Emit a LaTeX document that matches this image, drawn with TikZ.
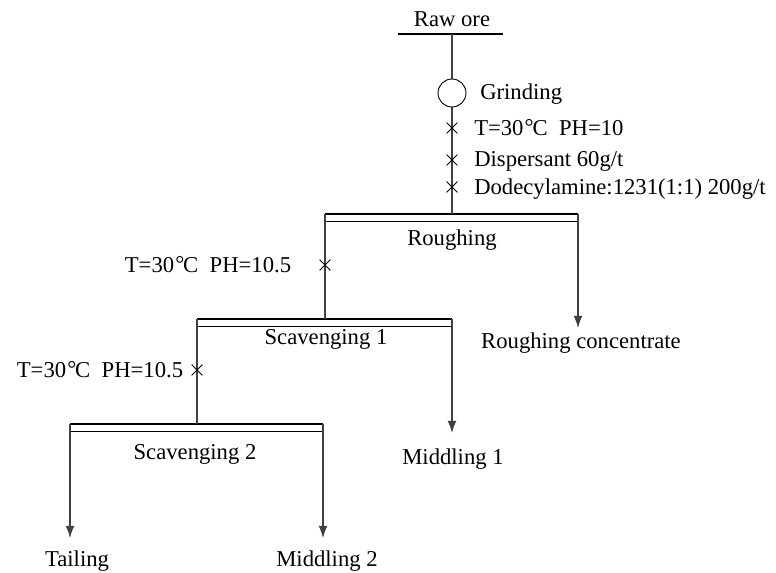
\documentclass[tikz,border=0pt]{standalone}
\usepackage{fontspec}
\setmainfont{Liberation Serif}
\usetikzlibrary{positioning, arrows.meta, shapes.misc}
\newcommand{\celsius}{\kern0.05em\raisebox{0.05em}{°}\kern-0.05em C}

\begin{document}
\begin{tikzpicture}[
  x=0.75pt, y=-0.75pt,
  every node/.style={font=\fontsize{17}{20}\selectfont, inner sep=0pt},
  txt/.style={anchor=base},
  txtl/.style={anchor=base west},
  pipe/.style={draw=black!75, line width=0.8pt},
  product/.style={pipe, -{Latex[length=9pt, width=6.5pt]}},
  celltop/.style={line width=1.6pt},
  cellbot/.style={line width=0.7pt},
  crossmark/.style={cross out, draw, minimum size=7.5pt, line width=0.6pt},
  mill/.style={circle, draw, minimum size=21pt, line width=0.7pt}
]
\useasboundingbox (0,0) rectangle (776,573);

% feed and grinding
\node[txt] (raw) at (452,27) {Raw ore};
\coordinate (raw-l) at (398,34);
\coordinate (raw-r) at (503,34);
\coordinate (raw-m) at (452,34);
\draw[celltop] (raw-l) -- (raw-r);
\node[mill] (grind) at (452,93) {};
\node[txtl] (grind-lbl) at (480,100) {Grinding};

% roughing cell
\coordinate (ro-tl) at (325,214); \coordinate (ro-tr) at (578,214);
\coordinate (ro-bl) at (325,221); \coordinate (ro-br) at (578,221);
\coordinate (ro-in) at (452,214);
\draw[celltop] (ro-tl) -- (ro-tr);
\draw[cellbot] (ro-bl) -- (ro-br);
\node[txt] (ro-lbl) at (452,246) {Roughing};

% scavenging 1 cell
\coordinate (s1-tl) at (197,319); \coordinate (s1-tr) at (452,319);
\coordinate (s1-bl) at (197,326); \coordinate (s1-br) at (452,326);
\coordinate (s1-in) at (325,319);
\draw[celltop] (s1-tl) -- (s1-tr);
\draw[cellbot] (s1-bl) -- (s1-br);
\node[txt] (s1-lbl) at (326,345) {Scavenging 1};

% scavenging 2 cell
\coordinate (s2-tl) at (70,424); \coordinate (s2-tr) at (323,424);
\coordinate (s2-bl) at (70,431); \coordinate (s2-br) at (323,431);
\coordinate (s2-in) at (197,424);
\draw[celltop] (s2-tl) -- (s2-tr);
\draw[cellbot] (s2-bl) -- (s2-br);
\node[txt] (s2-lbl) at (195,460) {Scavenging 2};

% pulp lines
\draw[pipe] (raw-m) -- (grind.north);
\draw[pipe] (grind.south) -- (ro-in);
\draw[pipe] (ro-tl) -- (s1-in);
\draw[pipe] (s1-tl) -- (s2-in);

% reagents
\node[crossmark] (x1) at (452,128) {};
\node[crossmark] (x2) at (452,160) {};
\node[crossmark] (x3) at (452,187) {};
\node[txtl] (r1) at (474,136) {T=30\celsius\ \ PH=10};
\node[txtl] (r2) at (474,167) {Dispersant 60g/t};
\node[txtl] (r3) at (474,195) {Dodecylamine:1231(1:1) 200g/t};
\node[crossmark] (x4) at (325,265) {};
\node[txt] (r4) at (208,273) {T=30\celsius\ \ PH=10.5};
\node[crossmark] (x5) at (197,370) {};
\node[txt] (r5) at (100,378) {T=30\celsius\ \ PH=10.5};

% products
\coordinate (conc-tip) at (578,328);
\coordinate (m1-tip) at (452,433);
\coordinate (tail-tip) at (70,538);
\coordinate (m2-tip) at (323,538);
\draw[product] (ro-tr) -- (conc-tip);
\draw[product] (s1-tr) -- (m1-tip);
\draw[product] (s2-tl) -- (tail-tip);
\draw[product] (s2-tr) -- (m2-tip);
\node[txt] (conc) at (581,349) {Roughing concentrate};
\node[txt] (m1) at (453,465) {Middling 1};
\node[txt] (tail) at (77,567) {Tailing};
\node[txt] (m2) at (327,567) {Middling 2};
\end{tikzpicture}
\end{document}
